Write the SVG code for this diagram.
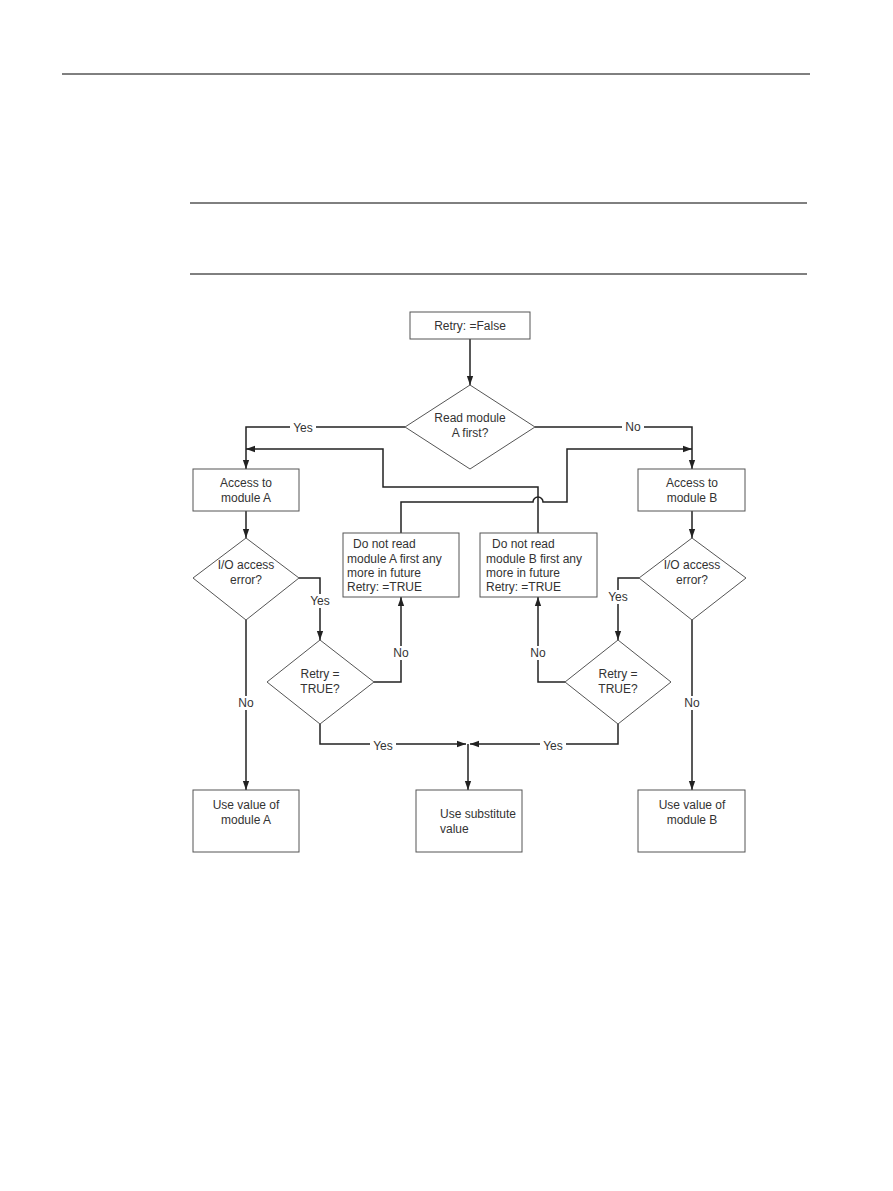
<svg xmlns="http://www.w3.org/2000/svg" width="893" height="1191" viewBox="0 0 893 1191">
<style>
.box{fill:#fff;stroke:#555;stroke-width:1}
.t{font-family:"Liberation Sans",Arial,sans-serif;font-size:12px;fill:#333}
.c{text-anchor:middle}
.ln{fill:none;stroke:#222;stroke-width:1.5}
.rule{stroke:#000;stroke-width:1}
</style>
<defs>
<marker id="ah" viewBox="0 0 10 10" refX="10" refY="5" markerWidth="9" markerHeight="9" markerUnits="userSpaceOnUse" orient="auto">
<path d="M0,1.5 L10,5 L0,8.5 z" fill="#222"/>
</marker>
</defs>
<rect width="893" height="1191" fill="#fff"/>
<line class="rule" x1="62" y1="74" x2="810" y2="74" stroke-width="1.5"/>
<line class="rule" x1="190" y1="203" x2="807" y2="203"/>
<line class="rule" x1="190" y1="274" x2="807" y2="274"/>

<g id="connectors">
<path class="ln" d="M470,339 V385" marker-end="url(#ah)"/>
<path class="ln" d="M405,427 H246 V469" marker-end="url(#ah)"/>
<path class="ln" d="M535,427 H692 V469" marker-end="url(#ah)"/>
<path class="ln" d="M246,511 V538" marker-end="url(#ah)"/>
<path class="ln" d="M692,511 V538" marker-end="url(#ah)"/>
<path class="ln" d="M299,578 H320 V640" marker-end="url(#ah)"/>
<path class="ln" d="M639,578 H618 V640" marker-end="url(#ah)"/>
<path class="ln" d="M374,682 H401 V597" marker-end="url(#ah)"/>
<path class="ln" d="M565,682 H538 V597" marker-end="url(#ah)"/>
<path class="ln" d="M401,533 V502 H533 A5,5 0 0 1 543,502 H567 V449 H692" marker-end="url(#ah)"/>
<path class="ln" d="M538,533 V487 H383 V449 H246" marker-end="url(#ah)"/>
<path class="ln" d="M246,620 V790" marker-end="url(#ah)"/>
<path class="ln" d="M692,620 V790" marker-end="url(#ah)"/>
<path class="ln" d="M320,724 V744 H466" marker-end="url(#ah)"/>
<path class="ln" d="M618,724 V744 H470" marker-end="url(#ah)"/>
<path class="ln" d="M468,744 V790" marker-end="url(#ah)"/>
<rect x="290" y="422" width="26" height="12" fill="#fff"/>
<text class="t c" x="303" y="432">Yes</text>
<rect x="622" y="420" width="22" height="13" fill="#fff"/>
<text class="t c" x="633" y="431">No</text>
<rect x="307" y="594" width="26" height="14" fill="#fff"/>
<text class="t c" x="320" y="605">Yes</text>
<rect x="605" y="590" width="26" height="14" fill="#fff"/>
<text class="t c" x="618" y="601">Yes</text>
<rect x="391" y="646" width="20" height="14" fill="#fff"/>
<text class="t c" x="401" y="657">No</text>
<rect x="528" y="646" width="20" height="14" fill="#fff"/>
<text class="t c" x="538" y="657">No</text>
<rect x="236" y="696" width="20" height="14" fill="#fff"/>
<text class="t c" x="246" y="707">No</text>
<rect x="682" y="696" width="20" height="14" fill="#fff"/>
<text class="t c" x="692" y="707">No</text>
<rect x="370" y="740" width="26" height="12" fill="#fff"/>
<text class="t c" x="383" y="750">Yes</text>
<rect x="540" y="740" width="26" height="12" fill="#fff"/>
<text class="t c" x="553" y="750">Yes</text>
</g>

<g id="start">
<rect class="box" x="410" y="312" width="120" height="27"/>
<text class="t c" x="470" y="330">Retry: =False</text>
</g>
<g id="readAFirst">
<polygon class="box" points="470,385 535,427 470,469 405,427"/>
<text class="t c" x="470" y="422">Read module</text>
<text class="t c" x="470" y="437">A first?</text>
</g>
<g id="accessA">
<rect class="box" x="193" y="469" width="106" height="42"/>
<text class="t c" x="246" y="487">Access to</text>
<text class="t c" x="246" y="502">module A</text>
</g>
<g id="accessB">
<rect class="box" x="638" y="469" width="107" height="42"/>
<text class="t c" x="692" y="487">Access to</text>
<text class="t c" x="692" y="502">module B</text>
</g>
<g id="ioErrA">
<polygon class="box" points="246,538 299,578 246,620 193,578"/>
<text class="t c" x="246" y="569">I/O access</text>
<text class="t c" x="246" y="584">error?</text>
</g>
<g id="ioErrB">
<polygon class="box" points="692,538 746,578 692,620 639,578"/>
<text class="t c" x="692" y="569">I/O access</text>
<text class="t c" x="692" y="584">error?</text>
</g>
<g id="retryA">
<polygon class="box" points="320,640 374,682 320,724 267,682"/>
<text class="t c" x="320" y="678">Retry =</text>
<text class="t c" x="320" y="693">TRUE?</text>
</g>
<g id="retryB">
<polygon class="box" points="618,640 671,682 618,724 565,682"/>
<text class="t c" x="618" y="678">Retry =</text>
<text class="t c" x="618" y="693">TRUE?</text>
</g>
<g id="noReadA">
<rect class="box" x="343" y="533" width="116" height="64"/>
<text class="t" x="353" y="548">Do not read</text>
<text class="t" x="347" y="563">module A first any</text>
<text class="t" x="347" y="577">more in future</text>
<text class="t" x="347" y="591">Retry: =TRUE</text>
</g>
<g id="noReadB">
<rect class="box" x="480" y="533" width="117" height="64"/>
<text class="t" x="492" y="548">Do not read</text>
<text class="t" x="486" y="563">module B first any</text>
<text class="t" x="486" y="577">more in future</text>
<text class="t" x="486" y="591">Retry: =TRUE</text>
</g>
<g id="useA">
<rect class="box" x="193" y="790" width="106" height="62"/>
<text class="t c" x="246" y="809">Use value of</text>
<text class="t c" x="246" y="824">module A</text>
</g>
<g id="useSub">
<rect class="box" x="416" y="790" width="106" height="62"/>
<text class="t" x="440" y="818">Use substitute</text>
<text class="t" x="440" y="833">value</text>
</g>
<g id="useB">
<rect class="box" x="638" y="790" width="107" height="62"/>
<text class="t c" x="692" y="809">Use value of</text>
<text class="t c" x="692" y="824">module B</text>
</g>
</svg>
